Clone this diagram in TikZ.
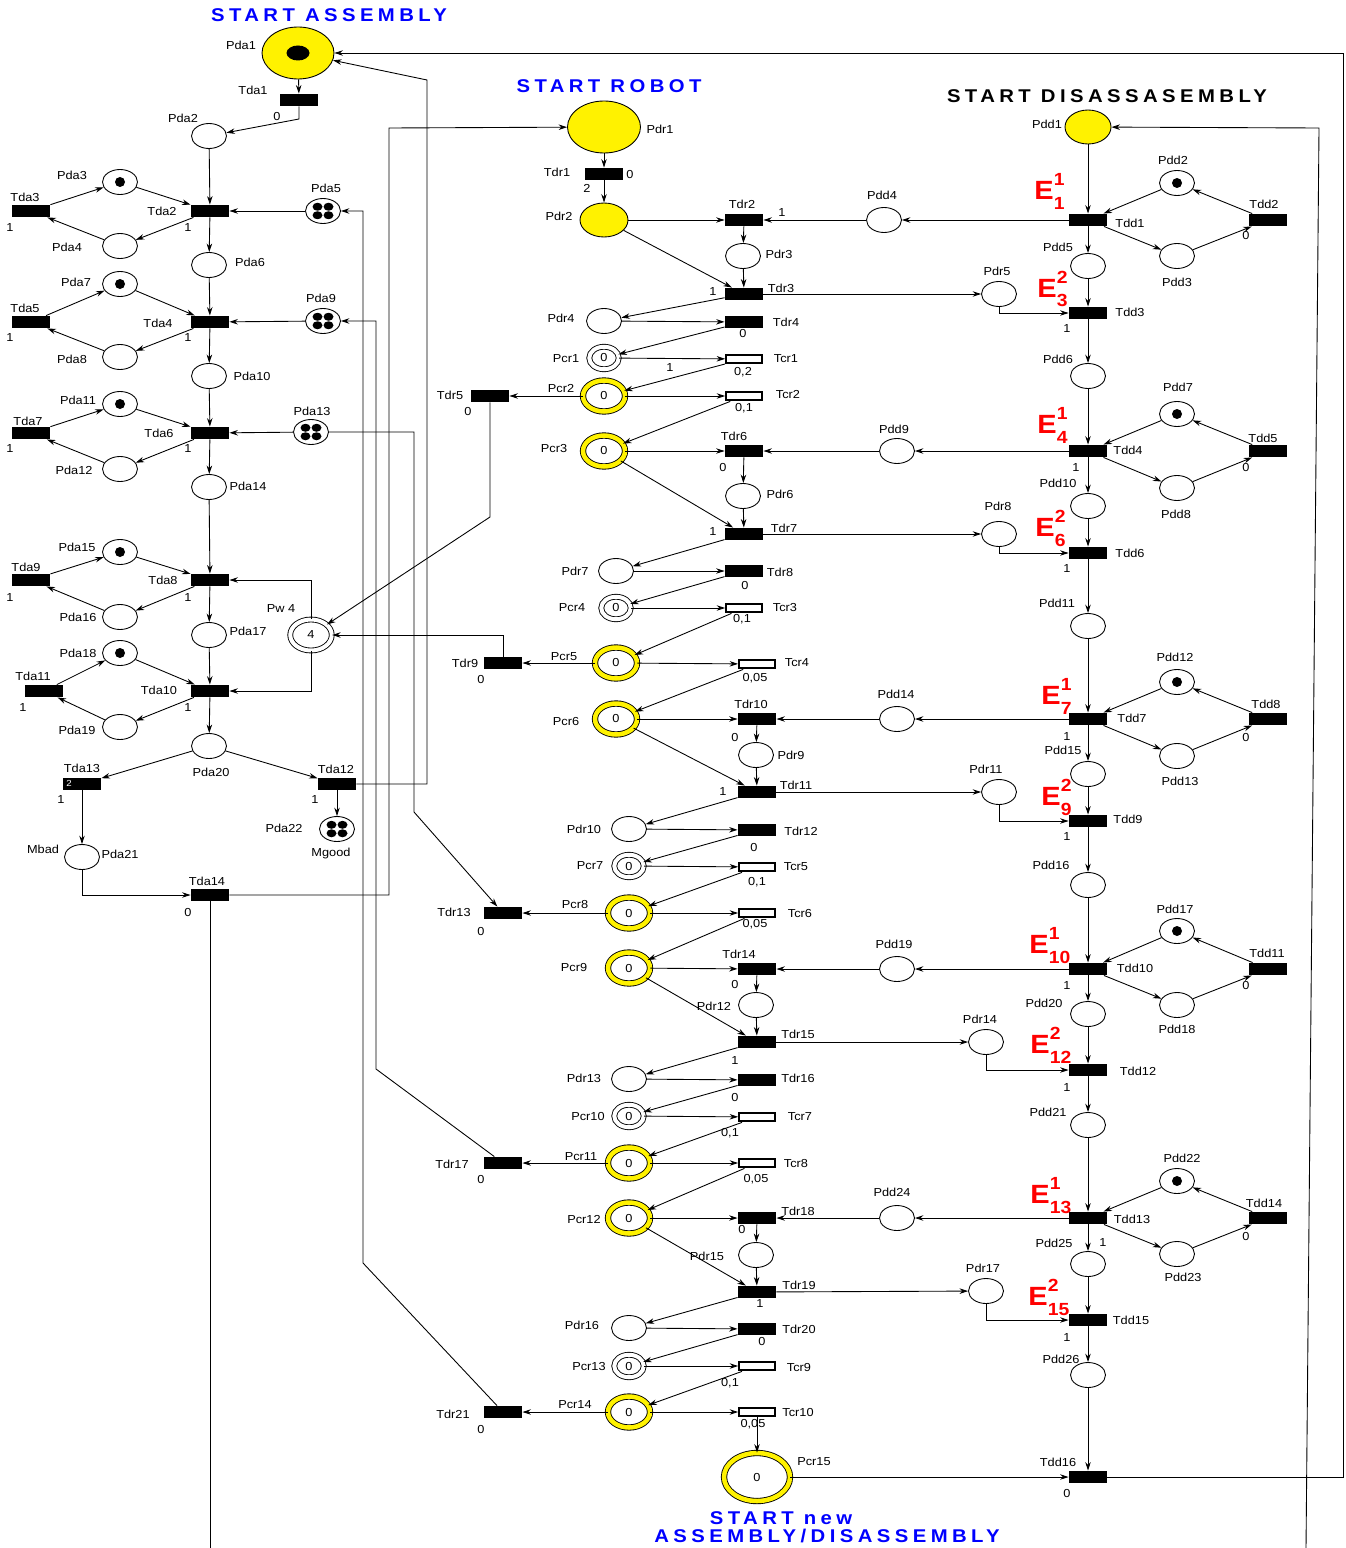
\documentclass[tikz,border=0pt]{standalone}
\usepackage{fontspec}
\setmainfont{Liberation Sans}[FakeStretch=1.1]
\usetikzlibrary{shapes.geometric,arrows.meta}
\newcommand\evt[2]{E\rlap{\raisebox{2.8mm}{\fontsize{10}{10}\selectfont#1}}\raisebox{-2mm}{\fontsize{10}{10}\selectfont#2}}

\begin{document}
\begin{tikzpicture}[x=0.2mm,y=-0.2mm,line width=0.5pt,>={Stealth[length=1.7mm,width=1.1mm]}]
        \tikzstyle{place}=[ellipse,draw=black,fill=white,minimum width=7mm,minimum height=5mm,inner sep=0pt,font=\fontsize{6.6}{7}\selectfont]
        \tikzstyle{startplace}=[place,fill=yellow]
        \tikzstyle{cplace}=[place,double,double distance=0.8mm,minimum width=5.9mm,minimum height=4.5mm]
        \tikzstyle{yplace}=[place,double=yellow,double distance=0.9mm,minimum width=8.4mm,minimum height=6.2mm]
        \tikzstyle{wplace}=[place,double,double distance=0.8mm,minimum width=8.3mm,minimum height=6.2mm]
        \tikzstyle{trans}=[rectangle,fill=black,minimum width=7.6mm,minimum height=2.4mm,inner sep=0pt]
        \tikzstyle{ctrans}=[rectangle,draw=black,line width=1.3pt,fill=white,minimum width=7.1mm,minimum height=1.7mm,inner sep=0pt]
        \tikzstyle{tok1}=[path picture={\fill [black] (path picture bounding box.center) circle (1mm);}]
        \tikzstyle{tok4}=[path picture={\foreach \dx/\dy in {-1/-1,-1/1,1/-1,1/1} \fill [black] ([shift={(\dx*1.1mm,\dy*0.85mm)}]path picture bounding box.center) ellipse (1mm and 0.8mm);}]
        \tikzstyle{bigtok}=[path picture={\fill [black] (path picture bounding box.center) ellipse (2.3mm and 1.5mm);}]
        \tikzstyle{lbl}=[font=\fontsize{6.6}{7}\selectfont,inner sep=0pt]
        \tikzstyle{title}=[font={\fontsize{10.5}{12}\selectfont\bfseries\addfontfeatures{LetterSpace=24}},text=blue,inner sep=0pt]
        \tikzstyle{evlab}=[font=\fontsize{15}{15}\selectfont\bfseries,text=red,inner sep=0pt,anchor=base west]
        \tikzstyle{flow}=[->]

        \useasboundingbox (0,0) rectangle (1346,1548);

        % titles
        \node [title] (tassy) at (329,15) {START ASSEMBLY};
        \node [title] (trob) at (609,86) {START ROBOT};
        \node [title,text=black] (tdis) at (1107,96) {START DISASSASEMBLY};
        \node [title] (tnew1) at (781,1518) {START new};
        \node [title] (tnew2) at (827,1536) {ASSEMBLY/DISASSEMBLY};

        % assembly
        \node [startplace,bigtok,minimum width=14.4mm,minimum height=10.4mm] (pda1) at (298,53) {};
        \node [trans] (tda1) at (299,100) {};
        \node [place] (pda2) at (209,136) {};
        \node [trans] (tda2) at (210,211) {};
        \node [place,tok1] (pda3) at (120,182) {};
        \node [place] (pda4) at (120,246) {};
        \node [trans] (tda3) at (31,211) {};
        \node [place,tok4] (pda5) at (323,211) {};
        \node [place] (pda6) at (209,265) {};
        \node [trans] (tda4) at (210,322) {};
        \node [place,tok1] (pda7) at (120,284) {};
        \node [place] (pda8) at (120,357) {};
        \node [trans] (tda5) at (31,322) {};
        \node [place,tok4] (pda9) at (323,321) {};
        \node [place] (pda10) at (209,376) {};
        \node [trans] (tda6) at (210,433) {};
        \node [place,tok1] (pda11) at (120,404) {};
        \node [place] (pda12) at (120,469) {};
        \node [trans] (tda7) at (31,433) {};
        \node [place,tok4] (pda13) at (311,432) {};
        \node [place] (pda14) at (209,487) {};
        \node [trans] (tda8) at (210,580) {};
        \node [place,tok1] (pda15) at (120,552) {};
        \node [place] (pda16) at (120,617) {};
        \node [trans] (tda9) at (31,580) {};
        \node [wplace] (pw4) at (311,635) {4};
        \node [place] (pda17) at (209,635) {};
        \node [trans] (tda10) at (210,691) {};
        \node [place,tok1] (pda18) at (120,653) {};
        \node [place] (pda19) at (120,727) {};
        \node [trans] (tda11) at (44,691) {};
        \node [place] (pda20) at (209,746) {};
        \node [trans] (tda13) at (82,784) {};
        \node [font=\fontsize{5}{5}\selectfont,text=white,inner sep=0pt] (ntda13) at (69,783) {2};
        \node [trans] (tda12) at (337,784) {};
        \node [place,tok4] (pda22) at (337,829) {};
        \node [place] (pda21) at (82,857) {};
        \node [trans] (tda14) at (210,895) {};

        % robot
        \node [startplace,minimum width=14.6mm,minimum height=10.4mm] (pdr1) at (604,127) {};
        \node [trans] (tdr1) at (604,174) {};
        \node [startplace,minimum width=9.6mm,minimum height=6.8mm] (pdr2) at (604,220) {};
        \node [trans] (tdr2) at (744,220) {};
        \node [place] (pdr3) at (743,256) {};
        \node [trans] (tdr3) at (744,294) {};
        \node [place] (pdr4) at (604,321) {};
        \node [trans] (tdr4) at (744,322) {};
        \node [cplace] (pcr1) at (604,358) {0};
        \node [ctrans] (tcr1) at (744,359) {};
        \node [yplace] (pcr2) at (604,396) {0};
        \node [ctrans] (tcr2) at (744,396) {};
        \node [trans] (tdr5) at (490,396) {};
        \node [yplace] (pcr3) at (604,451) {0};
        \node [trans] (tdr6) at (744,451) {};
        \node [place] (pdr6) at (743,496) {};
        \node [trans] (tdr7) at (744,534) {};
        \node [place] (pdr7) at (616,571) {};
        \node [trans] (tdr8) at (744,571) {};
        \node [cplace] (pcr4) at (616,608) {0};
        \node [ctrans] (tcr3) at (744,608) {};
        \node [yplace] (pcr5) at (616,663) {0};
        \node [ctrans] (tcr4) at (757,664) {};
        \node [trans] (tdr9) at (503,663) {};
        \node [yplace] (pcr6) at (616,719) {0};
        \node [trans] (tdr10) at (757,719) {};
        \node [place] (pdr9) at (756,755) {};
        \node [trans] (tdr11) at (757,792) {};
        \node [place] (pdr10) at (629,829) {};
        \node [trans] (tdr12) at (757,830) {};
        \node [cplace] (pcr7) at (629,866) {0};
        \node [ctrans] (tcr5) at (757,867) {};
        \node [yplace] (pcr8) at (629,913) {0};
        \node [ctrans] (tcr6) at (757,913) {};
        \node [trans] (tdr13) at (503,913) {};
        \node [yplace] (pcr9) at (629,968) {0};
        \node [trans] (tdr14) at (757,969) {};
        \node [place] (pdr12) at (756,1005) {};
        \node [trans] (tdr15) at (757,1042) {};
        \node [place] (pdr13) at (629,1079) {};
        \node [trans] (tdr16) at (757,1080) {};
        \node [cplace] (pcr10) at (629,1116) {0};
        \node [ctrans] (tcr7) at (757,1117) {};
        \node [yplace] (pcr11) at (629,1163) {0};
        \node [ctrans] (tcr8) at (757,1163) {};
        \node [trans] (tdr17) at (503,1163) {};
        \node [yplace] (pcr12) at (629,1218) {0};
        \node [trans] (tdr18) at (757,1218) {};
        \node [place] (pdr15) at (756,1255) {};
        \node [trans] (tdr19) at (757,1292) {};
        \node [place] (pdr16) at (629,1328) {};
        \node [trans] (tdr20) at (757,1329) {};
        \node [cplace] (pcr13) at (629,1366) {0};
        \node [ctrans] (tcr9) at (757,1366) {};
        \node [yplace] (pcr14) at (629,1412) {0};
        \node [ctrans] (tcr10) at (757,1412) {};
        \node [trans] (tdr21) at (503,1412) {};
        \node [yplace,minimum width=13.2mm,minimum height=9.6mm] (pcr15) at (757,1477) {0};

        % disassembly
        \node [startplace,minimum width=9.2mm,minimum height=6.8mm] (pdd1) at (1088,127) {};
        \node [trans] (tdd1) at (1088,220) {};
        \node [place,tok1] (pdd2) at (1177,183) {};
        \node [place] (pdd3) at (1177,256) {};
        \node [trans] (tdd2) at (1268,220) {};
        \node [place] (pdd4) at (884,220) {};
        \node [place] (pdd5) at (1088,266) {};
        \node [place] (pdr5) at (999,294) {};
        \node [trans] (tdd3) at (1088,313) {};
        \node [place] (pdd6) at (1088,376) {};
        \node [place,tok1] (pdd7) at (1177,414) {};
        \node [trans] (tdd4) at (1088,451) {};
        \node [trans] (tdd5) at (1268,451) {};
        \node [place] (pdd8) at (1177,488) {};
        \node [place] (pdd9) at (897,451) {};
        \node [place] (pdd10) at (1088,506) {};
        \node [place] (pdr8) at (999,534) {};
        \node [trans] (tdd6) at (1088,553) {};
        \node [place] (pdd11) at (1088,626) {};
        \node [place,tok1] (pdd12) at (1177,682) {};
        \node [trans] (tdd7) at (1088,719) {};
        \node [trans] (tdd8) at (1268,719) {};
        \node [place] (pdd13) at (1177,756) {};
        \node [place] (pdd14) at (897,719) {};
        \node [place] (pdd15) at (1088,774) {};
        \node [place] (pdr11) at (999,792) {};
        \node [trans] (tdd9) at (1088,821) {};
        \node [place] (pdd16) at (1088,885) {};
        \node [place,tok1] (pdd17) at (1177,931) {};
        \node [trans] (tdd10) at (1088,969) {};
        \node [trans] (tdd11) at (1268,969) {};
        \node [place] (pdd18) at (1177,1005) {};
        \node [place] (pdd19) at (897,969) {};
        \node [place] (pdd20) at (1088,1014) {};
        \node [place] (pdr14) at (986,1042) {};
        \node [trans] (tdd12) at (1088,1070) {};
        \node [place] (pdd21) at (1088,1125) {};
        \node [place,tok1] (pdd22) at (1177,1181) {};
        \node [trans] (tdd13) at (1088,1218) {};
        \node [trans] (tdd14) at (1268,1218) {};
        \node [place] (pdd23) at (1177,1254) {};
        \node [place] (pdd24) at (897,1218) {};
        \node [place] (pdd25) at (1088,1264) {};
        \node [place] (pdr17) at (986,1291) {};
        \node [trans] (tdd15) at (1088,1320) {};
        \node [place] (pdd26) at (1088,1375) {};
        \node [trans] (tdd16) at (1088,1477) {};

        % bends
        \coordinate (b1) at (299,119);
        \coordinate (b2) at (389,128);
        \coordinate (b3) at (427,80);
        \coordinate (b4) at (1343,53);
        \coordinate (b5) at (1306,1548);
        \coordinate (b6) at (1319,128);
        \coordinate (b7) at (210,1548);
        \coordinate (b8) at (414,812);
        \coordinate (b9) at (376,1069);
        \coordinate (b10) at (363,1263);
        \coordinate (b11) at (490,517);

        % assembly arcs
        \draw [flow] (pda1) -- (tda1);
        \draw [flow] (tda1.south) -- (b1) -- (pda2);
        \draw [flow] (pda2) -- (tda2);
        \draw [flow] (pda3) -- (tda2);
        \draw [flow] (tda2) -- (pda4);
        \draw [flow] (pda4) -- (tda3);
        \draw [flow] (tda3) -- (pda3);
        \draw [flow] (pda5) -- (tda2);
        \draw [flow] (tda2) -- (pda6);
        \draw [flow] (pda6) -- (tda4);
        \draw [flow] (pda7) -- (tda4);
        \draw [flow] (tda4) -- (pda8);
        \draw [flow] (pda8) -- (tda5);
        \draw [flow] (tda5) -- (pda7);
        \draw [flow] (pda9) -- (tda4);
        \draw [flow] (tda4) -- (pda10);
        \draw [flow] (pda10) -- (tda6);
        \draw [flow] (pda11) -- (tda6);
        \draw [flow] (tda6) -- (pda12);
        \draw [flow] (pda12) -- (tda7);
        \draw [flow] (tda7) -- (pda11);
        \draw [flow] (pda13) -- (tda6);
        \draw [flow] (tda6) -- (pda14);
        \draw [flow] (pda14) -- (tda8);
        \draw [flow] (pda15) -- (tda8);
        \draw [flow] (tda8) -- (pda16);
        \draw [flow] (pda16) -- (tda9);
        \draw [flow] (tda9) -- (pda15);
        \draw [flow] (pw4) |- (tda8);
        \draw [flow] (tda8) -- (pda17);
        \draw [flow] (pda17) -- (tda10);
        \draw [flow] (pda18) -- (tda10);
        \draw [flow] (tda10) -- (pda19);
        \draw [flow] (pda19) -- (tda11);
        \draw [flow] (tda11) -- (pda18);
        \draw [flow] (pw4) |- (tda10);
        \draw [flow] (tda10) -- (pda20);
        \draw [flow] (pda20) -- (tda13);
        \draw [flow] (pda20) -- (tda12);
        \draw [flow] (tda13) -- (pda21);
        \draw [flow] (tda12) -- (pda22);
        \draw [flow] (pda21) |- (tda14);
        \draw [flow] (tda14.east) -| (b2) -- (pdr1);
        \draw [flow] (tda12.east) -| (b3) -- (pda1);
        \draw (tda14) -- (b7);

        % links to the robot
        \draw [flow] (pda13) -| (b8) -- (tdr13);
        \draw [flow] (tdr17) -- (b9) |- (pda9);
        \draw [flow] (tdr21) -- (b10) |- (pda5);
        \draw [flow] (tdr5) -- (b11) -- (pw4);
        \draw [flow] (tdr9) |- (pw4);

        % robot arcs
        \draw [flow] (pdr1) -- (tdr1);
        \draw [flow] (tdr1) -- (pdr2);
        \draw [flow] (pdr2) -- (tdr2);
        \draw [flow] (pdr2) -- (tdr3);
        \draw [flow] (tdr2) -- (pdr3);
        \draw [flow] (pdr3) -- (tdr3);
        \draw [flow] (tdr3) -- (pdr4);
        \draw [flow] (pdr4) -- (tdr4);
        \draw [flow] (tdr4) -- (pcr1);
        \draw [flow] (pcr1) -- (tcr1);
        \draw [flow] (tcr1) -- (pcr2);
        \draw [flow] (pcr2) -- (tcr2);
        \draw [flow] (pcr2) -- (tdr5);
        \draw [flow] (tcr2) -- (pcr3);
        \draw [flow] (pcr3) -- (tdr6);
        \draw [flow] (pcr3) -- (tdr7);
        \draw [flow] (tdr6) -- (pdr6);
        \draw [flow] (pdr6) -- (tdr7);
        \draw [flow] (tdr7) -- (pdr7);
        \draw [flow] (pdr7) -- (tdr8);
        \draw [flow] (tdr8) -- (pcr4);
        \draw [flow] (pcr4) -- (tcr3);
        \draw [flow] (tcr3) -- (pcr5);
        \draw [flow] (pcr5) -- (tcr4);
        \draw [flow] (pcr5) -- (tdr9);
        \draw [flow] (tcr4) -- (pcr6);
        \draw [flow] (pcr6) -- (tdr10);
        \draw [flow] (pcr6) -- (tdr11);
        \draw [flow] (tdr10) -- (pdr9);
        \draw [flow] (pdr9) -- (tdr11);
        \draw [flow] (tdr11) -- (pdr10);
        \draw [flow] (pdr10) -- (tdr12);
        \draw [flow] (tdr12) -- (pcr7);
        \draw [flow] (pcr7) -- (tcr5);
        \draw [flow] (tcr5) -- (pcr8);
        \draw [flow] (pcr8) -- (tcr6);
        \draw [flow] (pcr8) -- (tdr13);
        \draw [flow] (tcr6) -- (pcr9);
        \draw [flow] (pcr9) -- (tdr14);
        \draw [flow] (pcr9) -- (tdr15);
        \draw [flow] (tdr14) -- (pdr12);
        \draw [flow] (pdr12) -- (tdr15);
        \draw [flow] (tdr15) -- (pdr13);
        \draw [flow] (pdr13) -- (tdr16);
        \draw [flow] (tdr16) -- (pcr10);
        \draw [flow] (pcr10) -- (tcr7);
        \draw [flow] (tcr7) -- (pcr11);
        \draw [flow] (pcr11) -- (tcr8);
        \draw [flow] (pcr11) -- (tdr17);
        \draw [flow] (tcr8) -- (pcr12);
        \draw [flow] (pcr12) -- (tdr18);
        \draw [flow] (pcr12) -- (tdr19);
        \draw [flow] (tdr18) -- (pdr15);
        \draw [flow] (pdr15) -- (tdr19);
        \draw [flow] (tdr19) -- (pdr16);
        \draw [flow] (pdr16) -- (tdr20);
        \draw [flow] (tdr20) -- (pcr13);
        \draw [flow] (pcr13) -- (tcr9);
        \draw [flow] (tcr9) -- (pcr14);
        \draw [flow] (pcr14) -- (tcr10);
        \draw [flow] (pcr14) -- (tdr21);
        \draw [flow] (tcr10) -- (pcr15);
        \draw [flow] (pcr15) -- (tdd16);

        % robot <-> disassembly
        \draw [flow] (tdd1) -- (pdd4);
        \draw [flow] (pdd4) -- (tdr2);
        \draw [flow] (tdr3) -- (pdr5);
        \draw [flow] (pdr5) |- (tdd3);
        \draw [flow] (tdd4) -- (pdd9);
        \draw [flow] (pdd9) -- (tdr6);
        \draw [flow] (tdr7) -- (pdr8);
        \draw [flow] (pdr8) |- (tdd6);
        \draw [flow] (tdd7) -- (pdd14);
        \draw [flow] (pdd14) -- (tdr10);
        \draw [flow] (tdr11) -- (pdr11);
        \draw [flow] (pdr11) |- (tdd9);
        \draw [flow] (tdd10) -- (pdd19);
        \draw [flow] (pdd19) -- (tdr14);
        \draw [flow] (tdr15) -- (pdr14);
        \draw [flow] (pdr14) |- (tdd12);
        \draw [flow] (tdd13) -- (pdd24);
        \draw [flow] (pdd24) -- (tdr18);
        \draw [flow] (tdr19) -- (pdr17);
        \draw [flow] (pdr17) |- (tdd15);

        % disassembly arcs
        \draw [flow] (pdd1) -- (tdd1);
        \draw [flow] (pdd2) -- (tdd1);
        \draw [flow] (tdd1) -- (pdd3);
        \draw [flow] (pdd3) -- (tdd2);
        \draw [flow] (tdd2) -- (pdd2);
        \draw [flow] (tdd1) -- (pdd5);
        \draw [flow] (pdd5) -- (tdd3);
        \draw [flow] (tdd3) -- (pdd6);
        \draw [flow] (pdd6) -- (tdd4);
        \draw [flow] (pdd7) -- (tdd4);
        \draw [flow] (tdd4) -- (pdd8);
        \draw [flow] (pdd8) -- (tdd5);
        \draw [flow] (tdd5) -- (pdd7);
        \draw [flow] (tdd4) -- (pdd10);
        \draw [flow] (pdd10) -- (tdd6);
        \draw [flow] (tdd6) -- (pdd11);
        \draw [flow] (pdd11) -- (tdd7);
        \draw [flow] (pdd12) -- (tdd7);
        \draw [flow] (tdd7) -- (pdd13);
        \draw [flow] (pdd13) -- (tdd8);
        \draw [flow] (tdd8) -- (pdd12);
        \draw [flow] (tdd7) -- (pdd15);
        \draw [flow] (pdd15) -- (tdd9);
        \draw [flow] (tdd9) -- (pdd16);
        \draw [flow] (pdd16) -- (tdd10);
        \draw [flow] (pdd17) -- (tdd10);
        \draw [flow] (tdd10) -- (pdd18);
        \draw [flow] (pdd18) -- (tdd11);
        \draw [flow] (tdd11) -- (pdd17);
        \draw [flow] (tdd10) -- (pdd20);
        \draw [flow] (pdd20) -- (tdd12);
        \draw [flow] (tdd12) -- (pdd21);
        \draw [flow] (pdd21) -- (tdd13);
        \draw [flow] (pdd22) -- (tdd13);
        \draw [flow] (tdd13) -- (pdd23);
        \draw [flow] (pdd23) -- (tdd14);
        \draw [flow] (tdd14) -- (pdd22);
        \draw [flow] (tdd13) -- (pdd25);
        \draw [flow] (pdd25) -- (tdd15);
        \draw [flow] (tdd15) -- (pdd26);
        \draw [flow] (pdd26) -- (tdd16);
        \draw [flow] (tdd16.east) -| (b4) -- (pda1);
        \draw [flow] (b5) -- (b6) -- (pdd1);

        % event labels
        \node [evlab] (e1) at (1034,200) {\evt{1}{1}};
        \node [evlab] (e3) at (1037,297) {\evt{2}{3}};
        \node [evlab] (e4) at (1037,433) {\evt{1}{4}};
        \node [evlab] (e6) at (1035,536) {\evt{2}{6}};
        \node [evlab] (e7) at (1041,704) {\evt{1}{7}};
        \node [evlab] (e9) at (1041,805) {\evt{2}{9}};
        \node [evlab] (e10) at (1029,953) {\evt{1}{10}};
        \node [evlab] (e12) at (1030,1053) {\evt{2}{12}};
        \node [evlab] (e13) at (1030,1203) {\evt{1}{13}};
        \node [evlab] (e15) at (1028,1305) {\evt{2}{15}};

        % names, assembly
        \node [lbl] (lpda1) at (241,45) {Pda1};
        \node [lbl] (ltda1) at (253,90) {Tda1};
        \node [lbl] (lpda2) at (183,118) {Pda2};
        \node [lbl] (ltda2) at (162,211) {Tda2};
        \node [lbl] (lpda3) at (72,175) {Pda3};
        \node [lbl] (lpda4) at (67,247) {Pda4};
        \node [lbl] (ltda3) at (25,197) {Tda3};
        \node [lbl] (lpda5) at (326,188) {Pda5};
        \node [lbl] (lpda6) at (250,262) {Pda6};
        \node [lbl] (lpda7) at (76,282) {Pda7};
        \node [lbl] (ltda5) at (25,308) {Tda5};
        \node [lbl] (ltda4) at (158,323) {Tda4};
        \node [lbl] (lpda9) at (321,298) {Pda9};
        \node [lbl] (lpda8) at (72,359) {Pda8};
        \node [lbl] (lpda10) at (252,376) {Pda10};
        \node [lbl] (lpda11) at (78,400) {Pda11};
        \node [lbl] (ltda7) at (28,421) {Tda7};
        \node [lbl] (ltda6) at (159,433) {Tda6};
        \node [lbl] (lpda12) at (74,470) {Pda12};
        \node [lbl] (lpda13) at (312,411) {Pda13};
        \node [lbl] (lpda14) at (248,486) {Pda14};
        \node [lbl] (lpda15) at (77,547) {Pda15};
        \node [lbl] (ltda9) at (26,567) {Tda9};
        \node [lbl] (ltda8) at (163,580) {Tda8};
        \node [lbl] (lpda16) at (78,617) {Pda16};
        \node [lbl] (lpw4) at (281,609) {Pw 4};
        \node [lbl] (lpda17) at (248,631) {Pda17};
        \node [lbl] (lpda18) at (78,653) {Pda18};
        \node [lbl] (ltda11) at (33,676) {Tda11};
        \node [lbl] (ltda10) at (159,690) {Tda10};
        \node [lbl] (lpda19) at (77,730) {Pda19};
        \node [lbl] (lpda20) at (211,772) {Pda20};
        \node [lbl] (ltda13) at (82,768) {Tda13};
        \node [lbl] (ltda12) at (336,769) {Tda12};
        \node [lbl] (lpda22) at (284,828) {Pda22};
        \node [lbl] (lmgood) at (331,853) {Mgood};
        \node [lbl] (lmbad) at (43,849) {Mbad};
        \node [lbl] (lpda21) at (120,854) {Pda21};
        \node [lbl] (ltda14) at (207,881) {Tda14};

        % names, robot
        \node [lbl] (lpdr1) at (660,129) {Pdr1};
        \node [lbl] (ltdr1) at (557,172) {Tdr1};
        \node [lbl] (lpdr2) at (559,216) {Pdr2};
        \node [lbl] (ltdr2) at (742,204) {Tdr2};
        \node [lbl] (lpdr3) at (779,254) {Pdr3};
        \node [lbl] (ltdr3) at (781,288) {Tdr3};
        \node [lbl] (lpdr4) at (561,318) {Pdr4};
        \node [lbl] (ltdr4) at (786,322) {Tdr4};
        \node [lbl] (lpcr1) at (566,359) {Pcr1};
        \node [lbl] (ltcr1) at (786,359) {Tcr1};
        \node [lbl] (lpcr2) at (561,389) {Pcr2};
        \node [lbl] (ltcr2) at (788,395) {Tcr2};
        \node [lbl] (ltdr5) at (450,395) {Tdr5};
        \node [lbl] (lpcr3) at (554,449) {Pcr3};
        \node [lbl] (ltdr6) at (734,436) {Tdr6};
        \node [lbl] (lpdr6) at (780,494) {Pdr6};
        \node [lbl] (ltdr7) at (784,528) {Tdr7};
        \node [lbl] (lpdr7) at (575,571) {Pdr7};
        \node [lbl] (ltdr8) at (780,572) {Tdr8};
        \node [lbl] (lpcr4) at (572,608) {Pcr4};
        \node [lbl] (ltcr3) at (785,608) {Tcr3};
        \node [lbl] (lpcr5) at (564,657) {Pcr5};
        \node [lbl] (ltdr9) at (465,663) {Tdr9};
        \node [lbl] (ltcr4) at (797,663) {Tcr4};
        \node [lbl] (lpcr6) at (566,721) {Pcr6};
        \node [lbl] (ltdr10) at (751,704) {Tdr10};
        \node [lbl] (lpdr9) at (791,755) {Pdr9};
        \node [lbl] (ltdr11) at (796,785) {Tdr11};
        \node [lbl] (lpdr10) at (584,829) {Pdr10};
        \node [lbl] (ltdr12) at (801,831) {Tdr12};
        \node [lbl] (lpcr7) at (590,866) {Pcr7};
        \node [lbl] (ltcr5) at (796,867) {Tcr5};
        \node [lbl] (lpcr8) at (575,904) {Pcr8};
        \node [lbl] (ltdr13) at (454,912) {Tdr13};
        \node [lbl] (ltcr6) at (800,913) {Tcr6};
        \node [lbl] (lpcr9) at (574,967) {Pcr9};
        \node [lbl] (ltdr14) at (739,954) {Tdr14};
        \node [lbl] (lpdr12) at (714,1006) {Pdr12};
        \node [lbl] (ltdr15) at (798,1034) {Tdr15};
        \node [lbl] (lpdr13) at (584,1078) {Pdr13};
        \node [lbl] (ltdr16) at (798,1078) {Tdr16};
        \node [lbl] (lpcr10) at (588,1116) {Pcr10};
        \node [lbl] (ltcr7) at (800,1117) {Tcr7};
        \node [lbl] (lpcr11) at (581,1157) {Pcr11};
        \node [lbl] (ltdr17) at (452,1164) {Tdr17};
        \node [lbl] (ltcr8) at (796,1163) {Tcr8};
        \node [lbl] (lpcr12) at (584,1219) {Pcr12};
        \node [lbl] (ltdr18) at (798,1211) {Tdr18};
        \node [lbl] (lpdr15) at (707,1256) {Pdr15};
        \node [lbl] (ltdr19) at (799,1285) {Tdr19};
        \node [lbl] (lpdr16) at (582,1325) {Pdr16};
        \node [lbl] (ltdr20) at (799,1329) {Tdr20};
        \node [lbl] (lpcr13) at (589,1366) {Pcr13};
        \node [lbl] (ltcr9) at (799,1367) {Tcr9};
        \node [lbl] (lpcr14) at (575,1405) {Pcr14};
        \node [lbl] (ltdr21) at (453,1414) {Tdr21};
        \node [lbl] (ltcr10) at (798,1412) {Tcr10};
        \node [lbl] (lpcr15) at (814,1462) {Pcr15};

        % names, disassembly
        \node [lbl] (lpdd1) at (1047,124) {Pdd1};
        \node [lbl] (ltdd1) at (1130,223) {Tdd1};
        \node [lbl] (lpdd2) at (1173,160) {Pdd2};
        \node [lbl] (ltdd2) at (1264,204) {Tdd2};
        \node [lbl] (lpdd3) at (1177,282) {Pdd3};
        \node [lbl] (lpdd4) at (882,195) {Pdd4};
        \node [lbl] (lpdd5) at (1058,247) {Pdd5};
        \node [lbl] (ltdd3) at (1130,312) {Tdd3};
        \node [lbl] (lpdr5) at (997,271) {Pdr5};
        \node [lbl] (lpdd6) at (1058,359) {Pdd6};
        \node [lbl] (lpdd7) at (1178,387) {Pdd7};
        \node [lbl] (ltdd4) at (1128,450) {Tdd4};
        \node [lbl] (ltdd5) at (1263,438) {Tdd5};
        \node [lbl] (lpdd8) at (1176,514) {Pdd8};
        \node [lbl] (lpdd9) at (894,429) {Pdd9};
        \node [lbl] (lpdd10) at (1058,483) {Pdd10};
        \node [lbl] (lpdr8) at (998,506) {Pdr8};
        \node [lbl] (ltdd6) at (1130,553) {Tdd6};
        \node [lbl] (lpdd11) at (1057,603) {Pdd11};
        \node [lbl] (lpdd12) at (1175,657) {Pdd12};
        \node [lbl] (ltdd7) at (1132,718) {Tdd7};
        \node [lbl] (ltdd8) at (1266,704) {Tdd8};
        \node [lbl] (lpdd13) at (1180,781) {Pdd13};
        \node [lbl] (lpdd14) at (896,694) {Pdd14};
        \node [lbl] (lpdd15) at (1063,750) {Pdd15};
        \node [lbl] (lpdr11) at (986,769) {Pdr11};
        \node [lbl] (ltdd9) at (1128,819) {Tdd9};
        \node [lbl] (lpdd16) at (1051,865) {Pdd16};
        \node [lbl] (lpdd17) at (1175,909) {Pdd17};
        \node [lbl] (ltdd10) at (1135,968) {Tdd10};
        \node [lbl] (ltdd11) at (1267,953) {Tdd11};
        \node [lbl] (lpdd18) at (1177,1029) {Pdd18};
        \node [lbl] (lpdd19) at (894,944) {Pdd19};
        \node [lbl] (lpdd20) at (1044,1003) {Pdd20};
        \node [lbl] (lpdr14) at (980,1019) {Pdr14};
        \node [lbl] (ltdd12) at (1138,1071) {Tdd12};
        \node [lbl] (lpdd21) at (1048,1112) {Pdd21};
        \node [lbl] (lpdd22) at (1182,1158) {Pdd22};
        \node [lbl] (ltdd13) at (1132,1219) {Tdd13};
        \node [lbl] (ltdd14) at (1264,1203) {Tdd14};
        \node [lbl] (lpdd23) at (1183,1277) {Pdd23};
        \node [lbl] (lpdd24) at (892,1192) {Pdd24};
        \node [lbl] (lpdd25) at (1054,1243) {Pdd25};
        \node [lbl] (lpdr17) at (983,1268) {Pdr17};
        \node [lbl] (ltdd15) at (1131,1320) {Tdd15};
        \node [lbl] (lpdd26) at (1061,1359) {Pdd26};
        \node [lbl] (ltdd16) at (1058,1462) {Tdd16};

        % weights and times
        \node [lbl] (wtda1) at (277,117) {0};
        \node [lbl] (wtda2) at (188,228) {1};
        \node [lbl] (wtda3) at (10,228) {1};
        \node [lbl] (wtda4) at (188,338) {1};
        \node [lbl] (wtda5) at (10,338) {1};
        \node [lbl] (wtda6) at (188,449) {1};
        \node [lbl] (wtda7) at (10,449) {1};
        \node [lbl] (wtda8) at (188,598) {1};
        \node [lbl] (wtda9) at (10,598) {1};
        \node [lbl] (wtda10) at (188,708) {1};
        \node [lbl] (wtda11) at (23,708) {1};
        \node [lbl] (wtda13) at (61,800) {1};
        \node [lbl] (wtda12) at (315,800) {1};
        \node [lbl] (wtda14) at (188,912) {0};
        \node [lbl] (wtdr1a) at (630,175) {0};
        \node [lbl] (wtdr1b) at (587,188) {2};
        \node [lbl] (wtdr2) at (782,213) {1};
        \node [lbl] (wtdr3) at (713,292) {1};
        \node [lbl] (wtdr4) at (743,334) {0};
        \node [lbl] (wtcr1a) at (670,368) {1};
        \node [lbl] (wtcr1b) at (743,372) {0,2};
        \node [lbl] (wtcr2) at (744,408) {0,1};
        \node [lbl] (wtdr5) at (468,412) {0};
        \node [lbl] (wtdr6) at (723,468) {0};
        \node [lbl] (wtdr7) at (713,532) {1};
        \node [lbl] (wtdr8) at (745,586) {0};
        \node [lbl] (wtcr3) at (742,619) {0,1};
        \node [lbl] (wtcr4) at (755,678) {0,05};
        \node [lbl] (wtdr9) at (481,680) {0};
        \node [lbl] (wtdr10) at (735,737) {0};
        \node [lbl] (wtdr11) at (723,792) {1};
        \node [lbl] (wtdr12) at (754,847) {0};
        \node [lbl] (wtcr5) at (757,882) {0,1};
        \node [lbl] (wtcr6) at (755,924) {0,05};
        \node [lbl] (wtdr13) at (481,931) {0};
        \node [lbl] (wtdr14) at (735,984) {0};
        \node [lbl] (wtdr15) at (735,1060) {1};
        \node [lbl] (wtdr16) at (735,1097) {0};
        \node [lbl] (wtcr7) at (730,1133) {0,1};
        \node [lbl] (wtcr8) at (756,1179) {0,05};
        \node [lbl] (wtdr17) at (481,1179) {0};
        \node [lbl] (wtdr18) at (742,1229) {0};
        \node [lbl] (wtdr19) at (760,1303) {1};
        \node [lbl] (wtdr20) at (762,1341) {0};
        \node [lbl] (wtcr9) at (730,1383) {0,1};
        \node [lbl] (wtcr10) at (753,1424) {0,05};
        \node [lbl] (wtdr21) at (481,1429) {0};
        \node [lbl] (wtdd2) at (1246,236) {0};
        \node [lbl] (wtdd3) at (1067,329) {1};
        \node [lbl] (wtdd4) at (1076,468) {1};
        \node [lbl] (wtdd5) at (1246,468) {0};
        \node [lbl] (wtdd6) at (1067,569) {1};
        \node [lbl] (wtdd7) at (1067,737) {1};
        \node [lbl] (wtdd8) at (1246,737) {0};
        \node [lbl] (wtdd9) at (1067,837) {1};
        \node [lbl] (wtdd10) at (1067,985) {1};
        \node [lbl] (wtdd11) at (1246,985) {0};
        \node [lbl] (wtdd12) at (1067,1087) {1};
        \node [lbl] (wtdd13) at (1103,1242) {1};
        \node [lbl] (wtdd14) at (1246,1236) {0};
        \node [lbl] (wtdd15) at (1067,1337) {1};
        \node [lbl] (wtdd16) at (1067,1493) {0};
\end{tikzpicture}
\end{document}
